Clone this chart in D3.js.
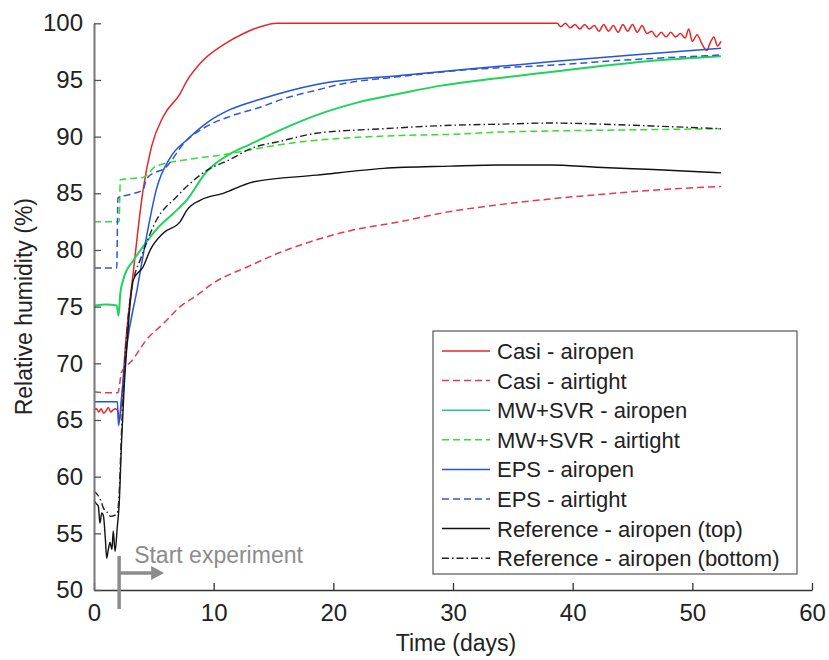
<!DOCTYPE html>
<html>
<head>
<meta charset="utf-8">
<script src="https://cdn.jsdelivr.net/npm/d3@7"></script>
<style>
  body { margin: 0; background: #fff; }
  svg { display: block; font-family: "Liberation Sans", Arial, sans-serif; }
</style>
</head>
<body>
<svg id="chart" width="829" height="660"></svg>
<script>
let width = 829, height = 660;

// [day, relative humidity %]
let casiOpen = [[0,65.9],[0.2,66.0],[0.4,65.7],[0.6,66.0],[0.8,65.6],[1.0,65.8],[1.2,66.1],[1.4,65.7],[1.6,65.9],[1.8,66.0],[2.0,65.8],[2.1,64.8],[2.3,66.5],[2.6,71.2],[3.0,75.5],[3.3,78.2],[3.7,82.0],[4.1,85.3],[4.8,89.1],[5.8,91.8],[7.2,93.8],[7.75,94.9],[8.9,96.5],[10.8,98.1],[12.5,99.1],[13.9,99.7],[15.3,100],[38.7,100],[39.0,99.7],[39.4,100],[39.8,99.6],[40.2,99.9],[40.6,99.5],[41.0,99.9],[41.4,99.5],[41.8,99.8],[42.2,99.3],[42.6,99.9],[43.0,99.3],[43.4,99.8],[43.8,99.2],[44.2,99.9],[44.6,99.3],[45.0,99.9],[45.4,99.2],[45.8,99.8],[46.2,99.1],[46.6,99.3],[47.0,98.8],[47.4,99.2],[47.8,98.8],[48.2,99.2],[48.6,98.8],[49.0,99.1],[49.4,98.7],[49.7,99.5],[50.0,98.4],[50.4,99.0],[50.8,98.2],[51.2,97.6],[51.5,98.3],[51.8,98.8],[52.1,98.0],[52.4,98.4]];
let casiTight = [[0,67.5],[1.0,67.4],[2.0,67.4],[2.3,69.2],[3.15,70.2],[4.4,72.1],[5.8,73.5],[7.2,75.0],[8.6,76.0],[10,77.1],[12.8,78.5],[15.6,79.8],[18.6,80.9],[21.4,81.7],[25.6,82.5],[29.8,83.4],[33.9,84.0],[38.1,84.5],[42.3,84.9],[47,85.3],[52.4,85.6]];
let mwOpen = [[0,75.1],[1.0,75.2],[1.9,75.1],[2.05,74.2],[2.2,76.2],[2.45,77.4],[3.3,79.1],[4.1,80.3],[5.2,81.8],[6.6,83.2],[7.75,84.4],[9.4,86.9],[11.4,88.5],[13.0,89.3],[15.6,90.6],[18.6,91.9],[22,93.0],[25.6,93.8],[29,94.5],[32.5,95.0],[38.1,95.7],[43,96.3],[48,96.8],[52.4,97.1]];
let mwTight = [[0,82.5],[2.1,82.5],[2.2,86.2],[3.0,86.3],[4.1,86.4],[5.2,87.4],[8.0,88.0],[10.8,88.4],[13.9,89.0],[17,89.5],[21.4,89.9],[25.6,90.1],[29.8,90.2],[33.9,90.4],[38.1,90.5],[45,90.6],[52.4,90.7]];
let epsOpen = [[0,66.6],[1.0,66.6],[1.95,66.6],[2.05,64.5],[2.3,67.0],[2.7,71.2],[3.6,76.5],[4.5,81.8],[5.2,85.3],[6.4,88.2],[7.75,89.7],[9.4,91.2],[11.4,92.4],[13.9,93.3],[18.6,94.6],[25.6,95.4],[33.9,96.2],[38.1,96.6],[45,97.2],[52.4,97.8]];
let epsTight = [[0,78.4],[1.9,78.4],[2.0,84.6],[3.0,84.9],[4.1,85.3],[4.4,86.3],[6.1,87.4],[7.5,89.4],[9.4,90.9],[11.4,91.8],[13.9,92.6],[16,93.4],[18.6,94.1],[20.5,94.6],[25.6,95.3],[30,95.8],[38.1,96.3],[45,96.8],[52.4,97.2]];
let refTop = [[0,57.9],[0.2,57.6],[0.36,57.4],[0.5,55.9],[0.65,56.8],[0.78,56.6],[0.95,54.5],[1.06,52.8],[1.2,53.6],[1.34,54.2],[1.5,53.6],[1.61,55.2],[1.76,53.4],[1.95,55.6],[2.1,57.5],[2.3,63.0],[2.5,67.5],[2.73,71.2],[3.0,75.0],[3.3,77.4],[4.1,78.5],[4.7,80.0],[5.8,81.5],[7.2,82.5],[7.75,83.5],[8.9,84.4],[10.8,85.0],[13.3,86.0],[18.6,86.6],[24.2,87.2],[29.8,87.4],[33.9,87.5],[38.1,87.5],[42,87.3],[46.7,87.1],[52.4,86.8]];
let refBottom = [[0,58.7],[0.3,58.4],[0.6,57.8],[0.8,57.2],[1.06,56.9],[1.4,56.5],[1.76,56.6],[1.95,56.8],[2.1,58.5],[2.3,64.0],[2.6,70.5],[3.0,75.5],[3.4,77.8],[3.85,79.1],[5.2,82.6],[6.9,84.7],[7.75,85.6],[9.4,87.0],[11.4,88.0],[13.0,88.9],[15.6,89.6],[18.6,90.3],[24.2,90.7],[29.8,91.0],[33.9,91.1],[38.1,91.2],[45,91.0],[52.4,90.7]];

let seriesNames = ["Casi - airopen", "Casi - airtight", "MW+SVR - airopen", "MW+SVR - airtight",
                   "EPS - airopen", "EPS - airtight", "Reference - airopen (top)", "Reference - airopen (bottom)"];
let seriesData = [casiOpen, casiTight, mwOpen, mwTight, epsOpen, epsTight, refTop, refBottom];
let seriesColors = ["#e8262a", "#e23a55", "#1fd45a", "#33dd33", "#2255dd", "#3358cc", "#111111", "#222222"];
let seriesWidth = [1.5, 1.5, 2, 1.5, 1.5, 1.5, 1.4, 1.4];
let seriesDash = [null, "7,4", null, "7,4", null, "7,4", null, "7,3,1.5,3"];

let xTicks = [0, 10, 20, 30, 40, 50, 60];
let yTicks = [50, 55, 60, 65, 70, 75, 80, 85, 90, 95, 100];
let startDay = 2.1;

let x = d3.scaleLinear().domain([0, 60]).range([94, 812]);
let y = d3.scaleLinear().domain([50, 100]).range([590, 23.3]);

var svg = d3.select('#chart');

// lines
var line = d3.line()
    .curve(d3.curveMonotoneX)
    .x(d => x(d[0]))
    .y(d => y(d[1]));

svg.append('g')
    .selectAll('path')
    .data(seriesData)
    .enter().append('path')
    .attr('d', d => line(d))
    .attr('fill', 'none')
    .attr('stroke', (d, i) => seriesColors[i])
    .attr('stroke-width', (d, i) => seriesWidth[i])
    .attr('stroke-dasharray', (d, i) => seriesDash[i]);

// axes, ticks pointing inward
var xAxis = svg.append('g')
    .attr('transform', 'translate(0,' + y(50) + ')')
    .call(d3.axisBottom(x).tickValues(xTicks).tickSizeInner(-7).tickSizeOuter(0).tickPadding(14));
xAxis.select('.domain').attr('stroke', '#333').attr('stroke-width', 1.5);
xAxis.selectAll('.tick line').attr('stroke', '#333').attr('stroke-width', 1.3);
xAxis.selectAll('text').attr('font-size', 24).attr('fill', '#222').attr('font-family', 'Liberation Sans, Arial');

var yAxis = svg.append('g')
    .attr('transform', 'translate(' + x(0) + ',0)')
    .call(d3.axisLeft(y).tickValues(yTicks).tickSizeInner(-7).tickSizeOuter(0).tickPadding(11));
yAxis.select('.domain').attr('stroke', '#777').attr('stroke-width', 2);
yAxis.selectAll('.tick line').attr('stroke', '#555').attr('stroke-width', 1.3);
yAxis.selectAll('text').attr('font-size', 24).attr('fill', '#222').attr('font-family', 'Liberation Sans, Arial');

// axis titles
svg.append('text')
    .attr('x', 456).attr('y', 651)
    .attr('text-anchor', 'middle')
    .attr('font-size', 23).attr('fill', '#222')
    .text('Time (days)');

svg.append('text')
    .attr('transform', 'translate(32,' + (y(75)) + ') rotate(-90)')
    .attr('text-anchor', 'middle')
    .attr('font-size', 23).attr('fill', '#222')
    .text('Relative humidity (%)');

// start experiment marker
var sx = x(startDay);
svg.append('line')
    .attr('x1', sx).attr('x2', sx)
    .attr('y1', 556).attr('y2', 609)
    .attr('stroke', '#8c8c8c').attr('stroke-width', 3.5);
svg.append('line')
    .attr('x1', sx).attr('x2', sx + 34)
    .attr('y1', 573).attr('y2', 573)
    .attr('stroke', '#8c8c8c').attr('stroke-width', 3.5);
svg.append('path')
    .attr('d', 'M' + (sx + 32) + ',566 L' + (sx + 45) + ',573 L' + (sx + 32) + ',580 Z')
    .attr('fill', '#8c8c8c');
svg.append('text')
    .attr('x', sx + 15).attr('y', 563)
    .attr('font-size', 23).attr('fill', '#8c8c8c')
    .text('Start experiment');

// legend
var legend = svg.append('g');
legend.append('rect')
    .attr('x', 433).attr('y', 331)
    .attr('width', 364).attr('height', 243)
    .attr('fill', '#fff').attr('stroke', '#555').attr('stroke-width', 1.2);

var items = legend.selectAll('g.item')
    .data(seriesNames)
    .enter().append('g')
    .attr('class', 'item')
    .attr('transform', (d, i) => 'translate(0,' + (351 + i * 29.6) + ')');

items.append('line')
    .attr('x1', 442).attr('x2', 490)
    .attr('y1', 0).attr('y2', 0)
    .attr('stroke', (d, i) => i == 2 ? '#22c8a0' : seriesColors[i])
    .attr('stroke-width', 1.5)
    .attr('stroke-dasharray', (d, i) => seriesDash[i]);

items.append('text')
    .attr('x', 497).attr('y', 8)
    .attr('font-size', 22).attr('fill', '#222')
    .text(d => d);
</script>
</body>
</html>
